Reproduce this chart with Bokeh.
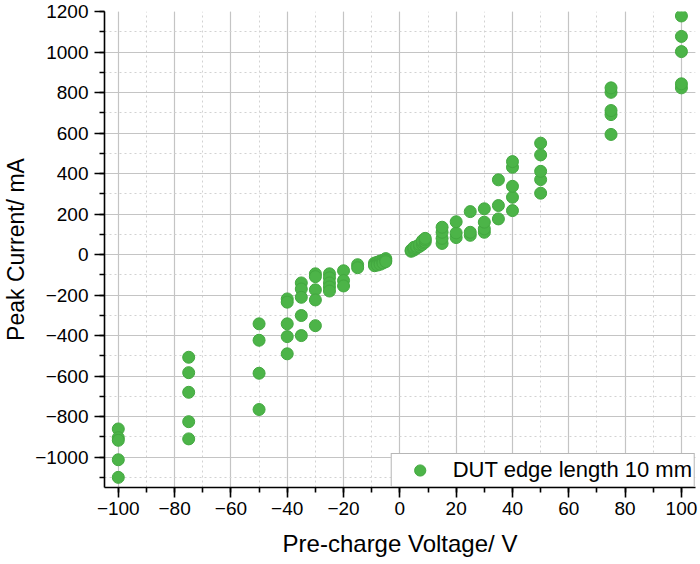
from bokeh.plotting import figure
from bokeh.models import (Range1d, SingleIntervalTicker, CustomJSTickFormatter,
                          Legend, LegendItem, ColumnDataSource)
from bokeh.embed import file_html
from bokeh.resources import INLINE

# ---- data ----
groups_voltage = [-100, -75, -50, -40, -35, -30, -25, -20, -15,
                  -9, -8, -7, -6, -5,
                  4, 5, 6, 7, 8, 9,
                  15, 20, 25, 30, 35, 40, 50, 75, 100]
groups_current = [
    [-861, -904, -917, -1013, -1100],
    [-507, -583, -680, -825, -910],
    [-342, -423, -586, -765],
    [-219, -235, -342, -405, -490],
    [-140, -170, -211, -301, -400],
    [-95, -109, -174, -224, -351],
    [-95, -115, -140, -160, -180],
    [-80, -128, -155],
    [-50, -65],
    [-42, -50, -55],
    [-38, -45, -52],
    [-32, -40, -48],
    [-28, -35, -42],
    [-20, -28, -35],
    [16, 22],
    [22, 30, 36],
    [32, 40],
    [40, 50],
    [50, 60, 68],
    [62, 72, 80],
    [55, 80, 110, 135],
    [84, 107, 162],
    [95, 110, 212],
    [110, 127, 160, 226],
    [176, 242, 369],
    [217, 283, 337, 431, 459],
    [303, 370, 411, 492, 550],
    [593, 691, 711, 801, 823],
    [823, 843, 1002, 1077, 1178],
]
series_label = "DUT edge length 10 mm"
x_title = "Pre-charge Voltage/ V"
y_title = "Peak Current/ mA"

voltage = []
current = []
for v, cs in zip(groups_voltage, groups_current):
    for c in cs:
        voltage.append(v)
        current.append(c)

src = ColumnDataSource(dict(x=voltage, y=current))

FONT = "Liberation Sans"

p = figure(width=700, height=564, output_backend="svg", toolbar_location=None,
           x_range=Range1d(-104.9, 105.0), y_range=Range1d(-1150, 1200),
           min_border_left=103, min_border_right=5, min_border_top=11,
           min_border_bottom=77)
p.outline_line_color = None
p.background_fill_color = "white"
p.border_fill_color = "white"

r = p.scatter("x", "y", source=src, size=12, fill_color="#4CB448",
              line_color="#43A840", line_width=1)

fmt = CustomJSTickFormatter(code="return tick < 0 ? '\u2212' + Math.abs(tick) : String(tick);")

p.xaxis.ticker = SingleIntervalTicker(interval=20, num_minor_ticks=2)
p.yaxis.ticker = SingleIntervalTicker(interval=200, num_minor_ticks=2)
for ax in (p.xaxis, p.yaxis):
    ax.formatter = fmt
    ax.axis_line_width = 1.6
    ax.axis_line_color = "black"
    ax.major_tick_line_width = 1.6
    ax.minor_tick_line_width = 1.6
    ax.major_tick_line_color = "black"
    ax.minor_tick_line_color = "black"
    ax.major_tick_out = 10
    ax.major_tick_in = 0
    ax.minor_tick_out = 5
    ax.minor_tick_in = 0
    ax.major_label_text_font = FONT
    ax.major_label_text_font_size = "19px"
    ax.major_label_text_color = "black"
    ax.axis_label_text_font = FONT
    ax.axis_label_text_font_style = "normal"
    ax.axis_label_text_color = "black"

p.xaxis.major_label_standoff = 4
p.yaxis.major_label_standoff = 6
p.xaxis.axis_label = x_title
p.yaxis.axis_label = y_title
p.xaxis.axis_label_text_font_size = "24px"
p.yaxis.axis_label_text_font_size = "23px"
p.xaxis.axis_label_standoff = 12
p.yaxis.axis_label_standoff = 3

for g in (p.xgrid, p.ygrid):
    g.grid_line_color = "#c4c4c4"
    g.grid_line_width = 1.2
    g.minor_grid_line_color = "#d2d2d2"
    g.minor_grid_line_dash = "2 3"
    g.minor_grid_line_width = 1

legend = Legend(items=[LegendItem(label=series_label, renderers=[r])],
                location="bottom_right")
legend.margin = 0
legend.padding = 2
legend.spacing = 0
legend.glyph_width = 52
legend.glyph_height = 28
legend.label_standoff = 7
legend.label_text_font = FONT
legend.label_text_font_size = "22px"
legend.label_text_color = "black"
legend.border_line_color = "#6e6e6e"
legend.border_line_width = 1.2
legend.background_fill_alpha = 1
p.add_layout(legend, "center")

open("out.html", "w").write(file_html(p, INLINE))
